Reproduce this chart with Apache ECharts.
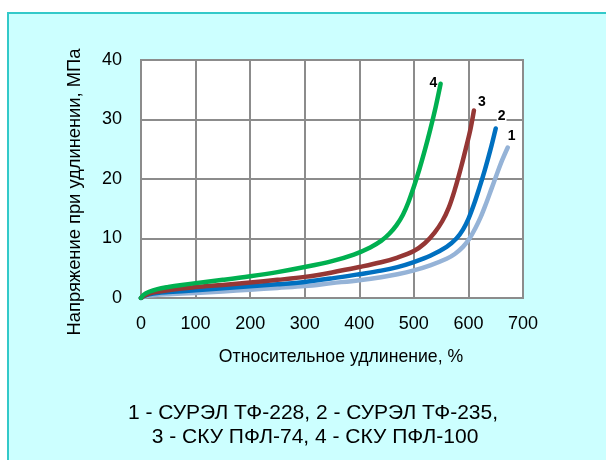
<!DOCTYPE html>
<html>
<head>
<meta charset="utf-8">
<script src="https://cdn.jsdelivr.net/npm/echarts@6/dist/echarts.min.js"></script>
<style>
html,body{margin:0;padding:0;background:#fff;}
#frame{position:absolute;left:7px;top:12px;width:620px;height:470px;background:#CCFFFF;border:2px solid #33C9C9;box-sizing:border-box;}
#chart{position:absolute;left:0;top:0;width:606px;height:460px;}
</style>
</head>
<body>
<div id="frame"></div>
<div id="chart"></div>
<script>
// Data: [elongation %, stress MPa]
const series1 = [[0,0],[5,0.2],[15,0.4],[30,0.55],[50,0.65],[100,0.85],[150,1.1],[200,1.4],[250,1.7],[300,2.0],[350,2.5],[400,3.0],[440,3.5],[470,4.0],[500,4.65],[530,5.5],[560,6.6],[575,7.4],[590,8.6],[602,10.0],[612,11.6],[622,13.5],[632,15.8],[642,18.3],[652,20.8],[662,23.2],[672,25.3]];
const series2 = [[0,0],[5,0.3],[15,0.6],[30,0.85],[50,1.0],[100,1.3],[150,1.65],[200,1.97],[250,2.3],[300,2.7],[350,3.3],[400,4.0],[440,4.6],[470,5.2],[500,6.05],[530,7.1],[560,8.6],[578,10.0],[590,11.5],[600,13.3],[610,15.7],[620,18.5],[630,21.5],[640,24.8],[650,28.5]];
const series3 = [[0,0],[5,0.35],[15,0.75],[30,1.05],[50,1.3],[100,1.85],[150,2.2],[200,2.6],[250,3.05],[300,3.55],[350,4.3],[400,5.2],[440,6.0],[470,6.8],[500,7.9],[520,9.2],[538,11.0],[552,12.9],[564,15.2],[575,18.2],[586,21.8],[596,25.4],[604,28.5],[610,31.5]];
const series4 = [[0,0],[5,0.55],[15,1.05],[30,1.5],[50,1.85],[75,2.2],[100,2.5],[150,3.05],[200,3.65],[250,4.35],[300,5.2],[350,6.2],[390,7.3],[420,8.5],[440,9.6],[455,10.8],[468,12.2],[480,14.0],[490,16.1],[500,18.7],[510,21.6],[520,24.8],[530,28.3],[540,32.1],[549,36]];
const seriesNames = ['1','2','3','4'];
const xTicks = [0,100,200,300,400,500,600,700];
const yTicks = [0,10,20,30,40];
const xTitle = 'Относительное удлинение, %';
const yTitle = 'Напряжение при удлинении, МПа';
const legendLines = ['1 - СУРЭЛ ТФ-228, 2 - СУРЭЛ ТФ-235,', '3 - СКУ ПФЛ-74, 4 - СКУ ПФЛ-100'];

const font = '"Liberation Sans", Arial, sans-serif';
const colors = ['#95B3D7','#0070C0','#953735','#00B050'];
const allData = [series1, series2, series3, series4];
const labelOffsets = [[-9,-11],[-7,-12],[-5,-8],[-20,-1]];

const chart = echarts.init(document.getElementById('chart'), null, {renderer:'canvas'});
const option = {
  backgroundColor: 'transparent',
  animation: false,
  grid: {left:141, top:60, right:83, bottom:162, show:true, backgroundColor:'#FFFFFF', borderColor:'#8C8C8C', borderWidth:2},
  xAxis: {
    type:'value', min:xTicks[0], max:xTicks[xTicks.length-1], interval:100,
    axisLine:{show:false}, axisTick:{show:false},
    splitLine:{show:true, lineStyle:{color:'#8C8C8C', width:2}},
    axisLabel:{color:'#000', fontFamily:font, fontSize:18, margin:17}
  },
  yAxis: {
    type:'value', min:yTicks[0], max:yTicks[yTicks.length-1], interval:10,
    axisLine:{show:false}, axisTick:{show:false},
    splitLine:{show:true, lineStyle:{color:'#8C8C8C', width:2}},
    axisLabel:{color:'#000', fontFamily:font, fontSize:18, margin:19}
  },
  series: allData.map((d,i)=>({
    type:'line', name:seriesNames[i], data:d, smooth:0.35, showSymbol:false, symbol:'none',
    lineStyle:{color:colors[i], width:4.5, cap:'round', join:'round'},
    z: 2+i,
    endLabel:{show:true, formatter:seriesNames[i], color:'#000', fontFamily:font, fontWeight:'bold', fontSize:14,
      offset:labelOffsets[i], backgroundColor: i===1 ? '#fff' : 'transparent', padding:[0,1]}
  })),
  graphic: [
    {type:'text', x:341, y:357, scaleX:0.93, style:{text:xTitle, fill:'#000', font:'19px '+font, textAlign:'center', textVerticalAlign:'middle'}},
    {type:'text', x:75, y:192, scaleX:0.965, rotation:Math.PI/2, style:{text:yTitle, fill:'#000', font:'19px '+font, textAlign:'center', textVerticalAlign:'middle'}},
    {type:'text', x:313, y:413, style:{text:legendLines[0], fill:'#000', font:'21px '+font, textAlign:'center', textVerticalAlign:'middle'}},
    {type:'text', x:315, y:437, style:{text:legendLines[1], fill:'#000', font:'21px '+font, textAlign:'center', textVerticalAlign:'middle'}}
  ]
};
chart.setOption(option);
</script>
</body>
</html>
